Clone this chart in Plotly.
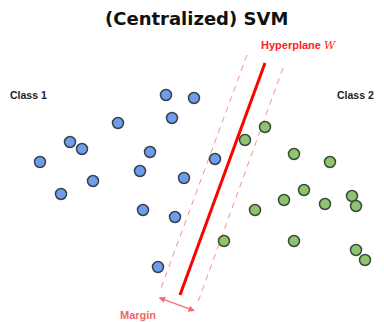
import plotly.graph_objects as go

# Class 1 (blue) points, pixel-like data coordinates
class1_x = [166, 194, 118, 172, 70, 82, 150, 40, 140, 93, 184, 61, 143, 175, 215, 158]
class1_y = [95, 98, 123, 118, 142, 149, 152, 162, 171, 181, 178, 194, 210, 217, 159, 267]

# Class 2 (green) points
class2_x = [265, 245, 294, 330, 304, 284, 325, 352, 356, 255, 224, 294, 356, 365]
class2_y = [127, 140, 154, 162, 190, 200, 204, 196, 206, 210, 241, 241, 250, 260]

# Hyperplane and margins (endpoints)
hyper_x = [265, 180]
hyper_y = [63, 295]
marg_left_x = [247, 161]
marg_left_y = [55, 288]
marg_right_x = [283, 198]
marg_right_y = [68, 302]
arrow_x = [157, 195]
arrow_y = [297, 311]

# page body has an 8px margin: figure occupies window pixels 8.. / 8..322
OFF = 8
W, H = 376, 322

fig = go.Figure()

dash_col = "rgba(240,110,110,0.75)"
fig.add_trace(go.Scatter(x=marg_left_x, y=marg_left_y, mode="lines",
                         line=dict(color=dash_col, width=1, dash="6px,5px"), hoverinfo="skip"))
fig.add_trace(go.Scatter(x=marg_right_x, y=marg_right_y, mode="lines",
                         line=dict(color=dash_col, width=1, dash="6px,5px"), hoverinfo="skip"))
fig.add_trace(go.Scatter(x=hyper_x, y=hyper_y, mode="lines",
                         line=dict(color="#ff0000", width=3), hoverinfo="skip"))

fig.add_trace(go.Scatter(x=class1_x, y=class1_y, mode="markers",
                         marker=dict(size=11, color="#6d9eeb",
                                     line=dict(color="#3a3f4a", width=1.5))))
fig.add_trace(go.Scatter(x=class2_x, y=class2_y, mode="markers",
                         marker=dict(size=11, color="#8fc46f",
                                     line=dict(color="#3a4a3a", width=1.5))))

fig.add_annotation(x=arrow_x[1], y=arrow_y[1], ax=arrow_x[0], ay=arrow_y[0],
                   xref="x", yref="y", axref="x", ayref="y", text="",
                   showarrow=True, arrowside="end+start", arrowhead=2, startarrowhead=2,
                   arrowsize=1, startarrowsize=1, arrowwidth=1.3, arrowcolor="#f07070")

fig.add_annotation(x=138, y=315, xref="x", yref="y", text="<b>Margin</b>", showarrow=False,
                   font=dict(family="Liberation Sans", size=11, color="#f06868"))
fig.add_annotation(x=299, y=45, xref="x", yref="y",
                   text="<b>Hyperplane</b> <span style='font-family:DejaVu Serif'><i>W</i></span>",
                   showarrow=False, font=dict(family="Liberation Sans", size=11, color="#ff2020"))
fig.add_annotation(x=28, y=95, xref="x", yref="y", text="<b>Class 1</b>", showarrow=False,
                   font=dict(family="Liberation Sans", size=10.5, color="#222222"))
fig.add_annotation(x=355, y=95, xref="x", yref="y", text="<b>Class 2</b>", showarrow=False,
                   font=dict(family="Liberation Sans", size=10.5, color="#222222"))
fig.add_annotation(x=196, y=18, xref="x", yref="y", text="<b>(Centralized) SVM</b>", showarrow=False,
                   font=dict(family="DejaVu Sans", size=18, color="#111111"))

fig.update_layout(
    width=W - OFF, height=H - OFF,
    margin=dict(l=0, r=0, t=0, b=0),
    paper_bgcolor="white", plot_bgcolor="white",
    showlegend=False,
    xaxis=dict(range=[OFF, W], visible=False, fixedrange=True),
    yaxis=dict(range=[H, OFF], visible=False, fixedrange=True),
)

fig.write_html("out.html")
